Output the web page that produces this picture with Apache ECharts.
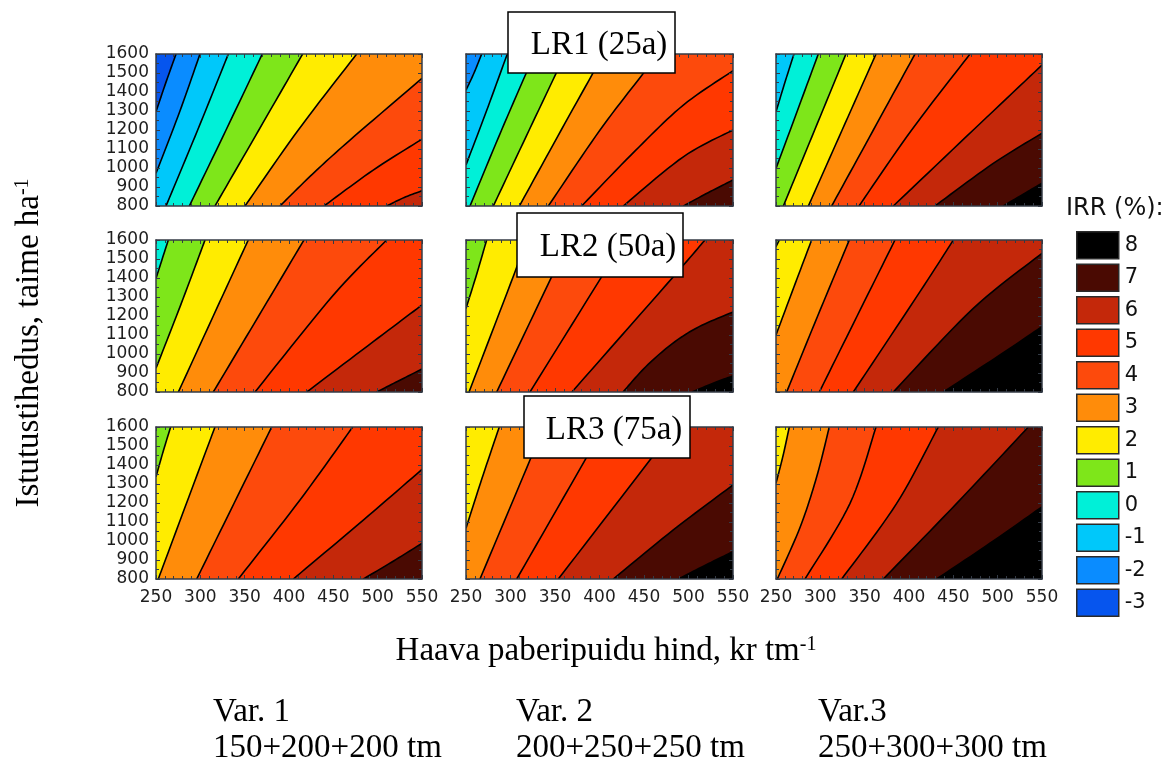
<!DOCTYPE html>
<html>
<head>
<meta charset="utf-8">
<title>IRR</title>
<script src="https://cdn.jsdelivr.net/npm/echarts@6.0.0/dist/echarts.min.js"></script>
<style>
  html, body { margin: 0; padding: 0; background: #fff; }
  #main { width: 1175px; height: 765px; }
</style>
</head>
<body>
<div id="main"></div>
<script>
  // IRR (%) levels, legend order top -> bottom
  var levels = [8, 7, 6, 5, 4, 3, 2, 1, 0, -1, -2, -3];
  var levelColors = {
    '8': '#000000', '7': '#4a0a02', '6': '#c4280a', '5': '#ff3800',
    '4': '#fd4a0c', '3': '#ff8c0a', '2': '#ffec00', '1': '#7ee61a',
    '0': '#00f0d8', '-1': '#00c8fa', '-2': '#0a8cff', '-3': '#0655ee'
  };
  var xTicks = [250, 300, 350, 400, 450, 500, 550];
  var yTicks = [800, 900, 1000, 1100, 1200, 1300, 1400, 1500, 1600];
  var rowNames = ['LR1 (25a)', 'LR2 (50a)', 'LR3 (75a)'];
  var colNames = [['Var. 1', '150+200+200 tm'], ['Var. 2', '200+250+250 tm'], ['Var.3', '250+300+300 tm']];

  // contour lines: [level, [[price, density], ...]] from upper end to lower end
  // the base level is the band in the top-left corner of the panel
  var lr1var1Base = -3;
  var lr1var1 = [
    [-2, [[272.6, 1600], [261, 1448], [250, 1296]]],
    [-1, [[299.6, 1600], [277, 1300], [250, 972]]],
    [0, [[331.6, 1600], [297, 1200], [261.3, 800]]],
    [1, [[369.9, 1600], [329, 1200], [287.6, 800]]],
    [2, [[415.4, 1600], [366, 1200], [316.5, 800]]],
    [3, [[476.3, 1600], [410.5, 1200], [350.4, 800]]],
    [4, [[550, 1472], [468.8, 1147], [427.4, 972], [389.8, 800]]],
    [5, [[550, 1152], [495, 989], [439.5, 800]]],
    [6, [[550, 880], [530, 845], [510.2, 800]]]
  ];
  var lr1var2Base = -2;
  var lr1var2 = [
    [-1, [[267.6, 1600], [259, 1500], [250, 1410]]],
    [0, [[296.4, 1600], [273, 1300], [250, 1016]]],
    [1, [[327, 1600], [290, 1200], [254.5, 800]]],
    [2, [[361.6, 1600], [321, 1200], [280.7, 800]]],
    [3, [[404.7, 1600], [357, 1200], [310, 800]]],
    [4, [[465.7, 1600], [449.2, 1498], [400.6, 1200], [342.5, 800]]],
    [5, [[550, 1512], [494.2, 1331], [440, 1090], [380, 800]]],
    [6, [[550, 1200], [494.2, 1059], [426.7, 800]]],
    [7, [[550, 937], [522, 870], [494.2, 800]]]
  ];
  var lr1var3Base = -1;
  var lr1var3 = [
    [0, [[270.3, 1600], [260, 1450], [250, 1296]]],
    [1, [[297.7, 1600], [274, 1300], [250, 998]]],
    [2, [[328.9, 1600], [293.6, 1200], [258.3, 800]]],
    [3, [[362.8, 1600], [324.6, 1200], [286.5, 800]]],
    [4, [[406.8, 1600], [359.8, 1200], [312.8, 800]]],
    [5, [[468.8, 1600], [403, 1200], [343.6, 800]]],
    [6, [[550, 1542], [472.5, 1200], [382.3, 800]]],
    [7, [[550, 1183], [495, 1024], [429.3, 800]]],
    [8, [[550, 920], [528, 860], [506.4, 800]]]
  ];
  var lr2var1Base = 0;
  var lr2var1 = [
    [1, [[263.9, 1600], [257, 1500], [250, 1398]]],
    [2, [[305.3, 1600], [278, 1260], [250, 925]]],
    [3, [[354.1, 1600], [314.6, 1200], [275.2, 800]]],
    [4, [[416.9, 1600], [365.8, 1200], [314.6, 800]]],
    [5, [[510.2, 1600], [450, 1310], [361.7, 800]]],
    [6, [[550, 1258], [495, 1065], [420, 800]]],
    [7, [[550, 921], [525, 862], [498.9, 800]]]
  ];
  var lr2var2Base = 1;
  var lr2var2 = [
    [2, [[273.2, 1600], [262, 1420], [250, 1240]]],
    [3, [[318, 1600], [303, 1407], [253.4, 800]]],
    [4, [[366.4, 1600], [346.3, 1407], [284.5, 800]]],
    [5, [[428.3, 1600], [402.5, 1407], [321.9, 800]]],
    [6, [[518.5, 1600], [483, 1407], [369, 800]]],
    [7, [[550, 1221], [512, 1144], [482.2, 1056], [452, 933], [426.4, 800]]],
    [8, [[550, 885], [527, 845], [504, 800]]]
  ];
  var lr2var3Base = 1;
  var lr2var3 = [
    [2, [[253.8, 1600], [250, 1565]]],
    [3, [[290.2, 1600], [270, 1350], [250, 1100]]],
    [4, [[332.7, 1600], [297, 1200], [262, 800]]],
    [5, [[384.2, 1600], [341.5, 1200], [298.9, 800]]],
    [6, [[450, 1600], [412.4, 1328], [337.2, 800]]],
    [7, [[550, 1530], [472.5, 1240], [382.3, 800]]],
    [8, [[550, 1144], [502.6, 995], [438.7, 800]]]
  ];
  var lr3var1Base = 1;
  var lr3var1 = [
    [2, [[266.5, 1600], [258, 1470], [250, 1338]]],
    [3, [[316.5, 1600], [284.5, 1200], [252.6, 800]]],
    [4, [[380.5, 1600], [338.2, 1200], [295.9, 800]]],
    [5, [[471.8, 1600], [412.4, 1216], [342.8, 800]]],
    [6, [[550, 1377], [483.8, 1110], [404.9, 800]]],
    [7, [[550, 988], [518, 895], [483.8, 800]]]
  ];
  var lr3var2Base = 2;
  var lr3var2 = [
    [3, [[287.4, 1600], [268, 1330], [250, 1067]]],
    [4, [[336.9, 1600], [321.9, 1426], [265.7, 800]]],
    [5, [[404.1, 1600], [383.7, 1426], [307, 800]]],
    [6, [[484, 1600], [456.7, 1426], [353.7, 800]]],
    [7, [[550, 1295], [482.9, 1058], [415.5, 800]]],
    [8, [[550, 944], [520, 875], [488.6, 800]]]
  ];
  var lr3var3Base = 2;
  var lr3var3 = [
    [3, [[265, 1600], [258, 1450], [250, 1304]]],
    [4, [[310.1, 1600], [295.9, 1338], [277.4, 1075], [251.5, 800]]],
    [5, [[362.8, 1600], [333.5, 1198], [282.7, 800]]],
    [6, [[433, 1600], [386.1, 1198], [324.1, 800]]],
    [7, [[534.6, 1600], [453.8, 1198], [371, 800]]],
    [8, [[550, 1180], [491.3, 988], [431.2, 800]]]
  ];

  var panels = [
    [lr1var1Base, lr1var1], [lr1var2Base, lr1var2], [lr1var3Base, lr1var3],
    [lr2var1Base, lr2var1], [lr2var2Base, lr2var2], [lr2var3Base, lr2var3],
    [lr3var1Base, lr3var1], [lr3var2Base, lr3var2], [lr3var3Base, lr3var3]
  ];

  var X0 = xTicks[0], X1 = xTicks[xTicks.length - 1];
  var Y0 = yTicks[0], Y1 = yTicks[yTicks.length - 1];
  var gridLeft = [156, 466, 776], gridWidth = [266, 267, 266];
  var gridTop = [54, 240, 427], gridHeight = 152;
  var frameColor = '#343b46';
  var sans = 'DejaVu Sans';
  var serif = 'Liberation Serif';

  // panel corners that close the region IRR >= level (lower-right side of the line)
  function cornersOf(pts) {
    var s = pts[0], e = pts[pts.length - 1], out = [];
    if (e[0] <= X0) out.push([X0, Y0]);
    out.push([X1, Y0]);
    if (s[1] >= Y1) out.push([X1, Y1]);
    return out;
  }

  // rounded drawing path through the read points (catmull-rom, pixel space)
  function smoothPath(p) {
    if (p.length < 3) return p;
    var out = [], n = p.length, steps = 12;
    for (var i = 0; i < n - 1; i++) {
      var p0 = p[Math.max(i - 1, 0)], p1 = p[i], p2 = p[i + 1], p3 = p[Math.min(i + 2, n - 1)];
      for (var k = 0; k < steps; k++) {
        var t = k / steps, t2 = t * t, t3 = t2 * t;
        out.push([0, 1].map(function (j) {
          return 0.5 * (2 * p1[j] + (-p0[j] + p2[j]) * t + (2 * p0[j] - 5 * p1[j] + 4 * p2[j] - p3[j]) * t2 +
            (-p0[j] + 3 * p1[j] - 3 * p2[j] + p3[j]) * t3);
        }));
      }
    }
    out.push(p[n - 1]);
    return out;
  }

  function bandSeries(i, level, pts) {
    return {
      type: 'custom',
      name: String(level),
      xAxisIndex: 2 * i,
      yAxisIndex: 2 * i,
      silent: true,
      itemStyle: { color: levelColors[level] },
      data: [0],
      renderItem: function (params, api) {
        var cs = params.coordSys;
        var children;
        if (!pts) {
          children = [{
            type: 'polygon',
            shape: { points: [[X0, Y0], [X1, Y0], [X1, Y1], [X0, Y1]].map(function (d) { return api.coord(d); }) },
            style: { fill: levelColors[level] }
          }];
        } else {
          var line = smoothPath(pts.map(function (d) { return api.coord(d); }));
          var poly = line.concat(cornersOf(pts).map(function (d) { return api.coord(d); }));
          children = [{
            type: 'polygon', shape: { points: poly }, style: { fill: levelColors[level] }
          }, {
            type: 'polyline', z2: 50, shape: { points: line },
            style: { stroke: '#000', lineWidth: 1.6, fill: null }
          }];
        }
        return {
          type: 'group',
          clipPath: { type: 'rect', shape: { x: cs.x, y: cs.y, width: cs.width, height: cs.height } },
          children: children
        };
      }
    };
  }

  var grids = [], xAxes = [], yAxes = [], series = [];
  panels.forEach(function (p, i) {
    var r = Math.floor(i / 3), c = i % 3;
    grids.push({ left: gridLeft[c], top: gridTop[r], width: gridWidth[c], height: gridHeight });
    ['bottom', 'top'].forEach(function (pos) {
      xAxes.push({
        type: 'value', gridIndex: i, position: pos, z: 10,
        min: X0, max: X1, interval: xTicks[1] - xTicks[0],
        axisLine: { show: true, onZero: false, lineStyle: { color: frameColor, width: 1.5 } },
        axisTick: { show: true, inside: true, length: 4, lineStyle: { color: frameColor } },
        minorTick: { show: true, splitNumber: 5, length: 3, lineStyle: { color: frameColor } },
        splitLine: { show: false },
        axisLabel: { show: pos === 'bottom' && r === 2, margin: 10, color: '#1e1e1e', fontFamily: sans, fontSize: 17,
          formatter: function (v) { return String(v); } }
      });
    });
    ['left', 'right'].forEach(function (pos) {
      yAxes.push({
        type: 'value', gridIndex: i, position: pos, z: 10,
        min: Y0, max: Y1, interval: yTicks[1] - yTicks[0],
        axisLine: { show: true, onZero: false, lineStyle: { color: frameColor, width: 1.5 } },
        axisTick: { show: true, inside: true, length: 4, lineStyle: { color: frameColor } },
        minorTick: { show: true, splitNumber: 2, length: 3, lineStyle: { color: frameColor } },
        splitLine: { show: false },
        axisLabel: { show: pos === 'left' && c === 0, margin: 7, color: '#1e1e1e', fontFamily: sans, fontSize: 17,
          formatter: function (v) { return String(v); } }
      });
    });
    series.push(bandSeries(i, p[0], null));
    p[1].forEach(function (ln) { series.push(bandSeries(i, ln[0], ln[1])); });
  });

  var boxes = [
    { x: 508, y: 12, w: 167, h: 61, tx: 599, ty: 45 },
    { x: 517, y: 213, w: 166, h: 64, tx: 608, ty: 247 },
    { x: 524, y: 396, w: 166, h: 62, tx: 614, ty: 430 }
  ];
  var graphics = [];
  boxes.forEach(function (b, k) {
    graphics.push({ type: 'rect', z: 100, shape: { x: b.x, y: b.y, width: b.w, height: b.h },
      style: { fill: '#fff', stroke: '#000', lineWidth: 1.5 } });
    graphics.push({ type: 'text', z: 101, x: b.tx, y: b.ty,
      style: { text: rowNames[k], fontFamily: serif, fontSize: 33, fill: '#000', align: 'center', verticalAlign: 'middle' } });
  });
  var supRich = {
    a: { fontFamily: serif, fontSize: 33, color: '#000' },
    s: { fontFamily: serif, fontSize: 20, color: '#000', verticalAlign: 'top', lineHeight: 20 }
  };
  graphics.push({ type: 'text', z: 100, x: 29, y: 343, rotation: Math.PI / 2,
    style: { text: '{a|Istutustihedus, taime ha}{s|-1}', rich: supRich, align: 'center', verticalAlign: 'middle' } });
  graphics.push({ type: 'text', z: 100, x: 606, y: 651,
    style: { text: '{a|Haava paberipuidu hind, kr tm}{s|-1}', rich: supRich, align: 'center', verticalAlign: 'middle' } });
  [213, 516, 818].forEach(function (x, k) {
    graphics.push({ type: 'text', z: 100, x: x, y: 712,
      style: { text: colNames[k][0], fontFamily: serif, fontSize: 33, fill: '#000', verticalAlign: 'middle' } });
    graphics.push({ type: 'text', z: 100, x: x, y: 748,
      style: { text: colNames[k][1], fontFamily: serif, fontSize: 33, fill: '#000', verticalAlign: 'middle' } });
  });
  graphics.push({ type: 'text', z: 100, x: 1066, y: 209,
    style: { text: 'IRR (%):', fontFamily: sans, fontSize: 24, fill: '#111', verticalAlign: 'middle' } });

  var chart = echarts.init(document.getElementById('main'), null, { renderer: 'canvas' });
  chart.setOption({
    animation: false,
    grid: grids,
    xAxis: xAxes,
    yAxis: yAxes,
    legend: {
      data: levels.map(String),
      orient: 'vertical', left: 1071, top: 226,
      itemWidth: 42, itemHeight: 27, itemGap: 4,
      icon: 'rect', selectedMode: false,
      itemStyle: { borderColor: '#2a2a2a', borderWidth: 1.5 },
      textStyle: { fontFamily: sans, fontSize: 21, color: '#111', padding: [0, 0, 0, 1] }
    },
    graphic: graphics,
    series: series
  });
</script>
</body>
</html>
